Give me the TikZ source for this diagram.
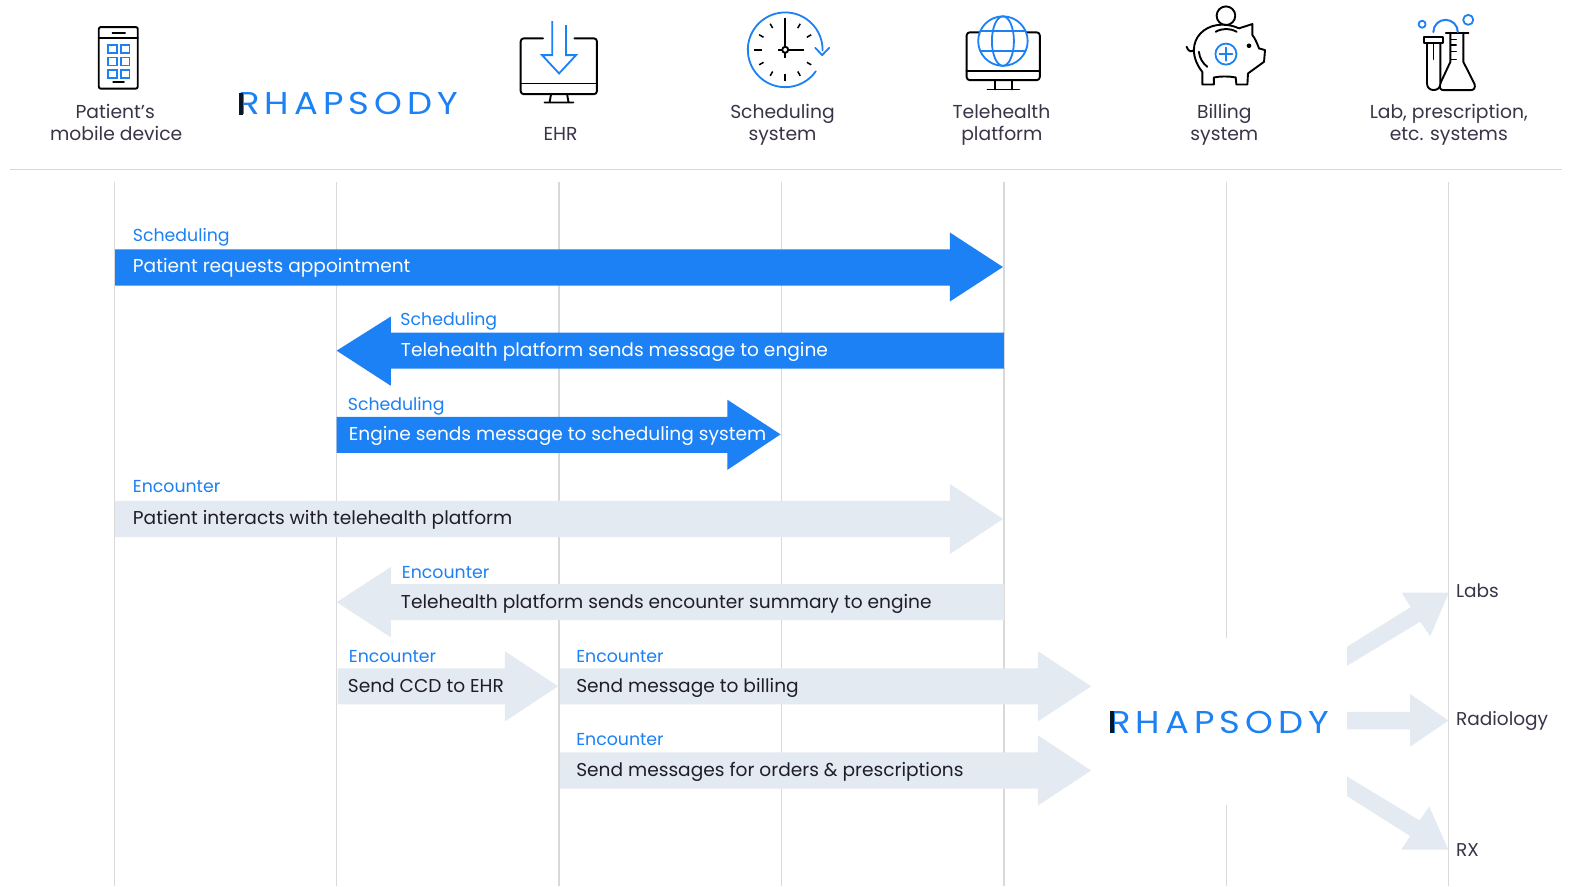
\documentclass[tikz,border=0pt]{standalone}
\usepackage{fontspec}
\setmainfont{Poppins}
\newfontfamily\logofont[LetterSpace=16,FakeStretch=1.12]{Poppins}
\definecolor{rblue}{HTML}{1B81F4}
\definecolor{rgrey}{HTML}{E4EAF2}
\definecolor{rline}{HTML}{D9D9D9}
\definecolor{rtext}{HTML}{3B3347}
\definecolor{rdark}{HTML}{1F1D2B}
\definecolor{rbar}{HTML}{0A1626}
\tikzset{
 lifeline/.style={draw=rline,line width=1.2pt},
 head/.style={anchor=base,inner sep=0pt,text=rtext,font=\fontsize{18.7}{23}\selectfont},
 side/.style={anchor=base west,inner sep=0pt,text=rtext,font=\fontsize{18.5}{23}\selectfont},
 tag/.style={anchor=base west,inner sep=0pt,text=rblue,font=\fontsize{17.3}{22}\selectfont},
 msgdark/.style={anchor=base west,inner sep=0pt,text=rdark,font=\fontsize{18.55}{24}\selectfont},
 msglight/.style={anchor=base west,inner sep=0pt,text=white,font=\fontsize{18.55}{24}\selectfont},
 logo/.style={anchor=base west,inner sep=0pt,text=rblue,font=\logofont\fontsize{31.5}{36}\selectfont},
 ink/.style={draw=black,line width=1.9pt,line join=round,line cap=round},
 inkb/.style={draw=rblue,line width=1.8pt,line join=round,line cap=round},
}
% rightward block arrow: x0, xhead, xtip, yshaft top, yshaft bottom, yhead top, yhead bottom, ytip, colour
\newcommand{\rarrow}[9]{\fill[#9] (#1,#4) -- (#2,#4) -- (#2,#6) -- (#3,#8) -- (#2,#7) -- (#2,#5) -- (#1,#5) -- cycle;}
\begin{document}
\begin{tikzpicture}[x=1pt,y=1pt,yscale=-1]
\useasboundingbox (0,0) rectangle (1568,885.3);
\fill[white] (0,0) rectangle (1568,885.3);
% header rule
\coordinate (ruleL) at (10,169); \coordinate (ruleR) at (1559,169);
\draw[draw=rline,line width=1.2pt] (ruleL) -- (ruleR);
% lifelines
\foreach \n/\x in {a/114,b/336,c/558,d/780,e/1002,g/1446}{
 \coordinate (\n top) at (\x,182); \coordinate (\n bot) at (\x,884);
 \draw[lifeline] (\n top) -- (\n bot);
}
\coordinate (ftop) at (1224,182); \coordinate (fmid) at (1224,637);
\coordinate (fmidb) at (1224,803); \coordinate (fbot) at (1224,884);
\draw[lifeline] (ftop) -- (fmid); \draw[lifeline] (fmidb) -- (fbot);
% block arrows
\rarrow{115}{948}{1001}{249}{285}{232}{301}{266.5}{rblue}
\rarrow{1002}{390}{336}{332}{368}{316}{385}{350}{rblue}
\rarrow{336}{726}{779}{416}{452}{399}{469}{433.5}{rblue}
\rarrow{115}{948}{1001}{500}{536}{483}{553}{518}{rgrey}
\rarrow{1002}{390}{336}{583}{619}{566}{636}{601}{rgrey}
\rarrow{337}{504}{557}{667}{703}{650}{720}{685}{rgrey}
\rarrow{559}{1036}{1089}{667}{703}{650}{720}{685}{rgrey}
\rarrow{559}{1036}{1089}{751}{787}{734}{804}{769}{rgrey}
\rarrow{1344.5}{1407.5}{1445.5}{710.5}{728}{692.7}{745.3}{719.2}{rgrey}
\fill[rgrey] (1344.5,645.5) -- (1408,606) -- (1399,591.5) -- (1446,591.5) -- (1427.5,635) -- (1417.5,620.5) -- (1344.5,664.5) -- cycle;
\fill[rgrey] (1344.5,775) -- (1417,819) -- (1426.5,805) -- (1445.5,848) -- (1398.5,848) -- (1407.5,834.5) -- (1344.5,794.5) -- cycle;
% arrow labels
\node[tag] (t1) at (132.5,241) {Scheduling};
\node[msglight] (m1) at (132.5,272) {Patient requests appointment};
\node[tag] (t2) at (399.5,325) {Scheduling};
\node[msglight] (m2) at (400,356) {Telehealth platform sends message to engine};
\node[tag] (t3) at (347,410) {Scheduling};
\node[msglight] (m3) at (348,440) {Engine sends message to scheduling system};
\node[tag] (t4) at (132.5,492) {Encounter};
\node[msgdark] (m4) at (132.5,523) {Patient interacts with telehealth platform};
\node[tag] (t5) at (401,577) {Encounter};
\node[msgdark] (m5) at (400,607) {Telehealth platform sends encounter summary to engine};
\node[tag] (t6) at (348,661) {Encounter};
\node[msgdark] (m6) at (347,691) {Send CCD to EHR};
\node[tag] (t7) at (575,661) {Encounter};
\node[msgdark] (m7) at (575,691) {Send message to billing};
\node[tag] (t8) at (575,744) {Encounter};
\node[msgdark] (m8) at (575,775) {Send messages for orders \& prescriptions};
\node[side] (labs) at (1453,596) {Labs};
\node[side] (rad) at (1453,724) {Radiology};
\node[side] (rx) at (1453,855) {RX};
% header labels
\node[head] (h1a) at (115,118) {Patient’s};
\node[head] (h1b) at (116,140) {mobile device};
\node[head] (h3) at (559.5,140) {EHR};
\node[head] (h4a) at (781,118) {Scheduling};
\node[head] (h4b) at (781,140) {system};
\node[head] (h5a) at (999.5,118) {Telehealth};
\node[head] (h5b) at (1000,140) {platform};
\node[head] (h6a) at (1222,118) {Billing};
\node[head] (h6b) at (1222,140) {system};
\node[head] (h7a) at (1446,118) {Lab, prescription,};
\node[head] (h7b) at (1446,140) {etc. systems};
% logos
\node[logo] (logo1) at (237.5,114.7) {RHAPSODY};
\fill[rbar] (238.6,92.7) rectangle (242.6,114.7);
\node[logo] (logo2) at (1107,731.7) {RHAPSODY};
\fill[rbar] (1108,709.7) rectangle (1112,731.7);
% phone
\draw[ink,rounded corners=2pt] (98.6,27) rectangle (137.5,88.5);
\draw[ink] (98.6,37.5) -- (137.5,37.5);
\draw[ink,line width=1.2pt] (112,33) -- (125,33);
\draw[ink] (113,81.7) -- (123.6,81.7);
\foreach \px in {108,120.7}\foreach \py in {45.3,57.3,69.6}
 \draw[inkb,line join=miter] (\px,\py) rectangle +(8.6,8);
% EHR monitor
\draw[ink,rounded corners=3pt] (542,38.3) -- (519.7,38.3) -- (519.7,94) -- (595.8,94) -- (595.8,38.3) -- (573.3,38.3);
\draw[ink] (519.7,83.3) -- (595.8,83.3);
\draw[ink] (550,94) -- (548.5,102.3) (566,94) -- (567.5,102.3) (543.6,102.3) -- (572.2,102.3);
\draw[inkb,line cap=butt,line join=miter] (551.1,21) -- (551.1,55) -- (541,55) -- (558,73.3) -- (575,55) -- (565,55) -- (565,25);
% clock
\begin{scope}[xshift=-1.3pt]
\draw[inkb] (785,49.7) ++(35:37.3) arc[start angle=35,end angle=361,radius=37.3];
\draw[inkb] (815,47.7) -- (821.9,55) -- (829,47.7);
\foreach \a in {30,60,120,150,210,240,300,330}
 \draw[ink,line width=1.5pt,line cap=butt] (785,49.7) ++(\a:25) -- ++(\a:5);
\draw[ink,line cap=butt] (785,49.7) ++(90:24) -- ++(90:7.5);
\draw[ink,line cap=butt] (785,49.7) ++(180:23.5) -- ++(180:8);
\draw[ink,line cap=butt] (785,18.3) -- (785,58.3) (778,49.7) -- (803.3,49.7);
\draw[ink,fill=white] (785,49.7) circle[radius=3pt];
\end{scope}
% telehealth monitor
\draw[ink,rounded corners=3pt] (964.8,32.3) rectangle (1037.8,80);
\draw[ink] (964.8,70.7) -- (1037.8,70.7);
\draw[ink] (992.7,80) -- (992.7,89.3) (1010.2,80) -- (1010.2,89.3) (985.6,89.3) -- (1017.3,89.3);
\draw[inkb,fill=white] (1001,41) circle[radius=24.7pt];
\draw[inkb] (1001,41) ellipse[x radius=11pt,y radius=24.7pt];
\draw[inkb] (978.4,31) -- (1023.6,31) (978.6,50.7) -- (1023.4,50.7);
% piggy bank
\begin{scope}[xshift=-1.7pt]
\draw[ink] (1225.3,15.7) circle[radius=9.3pt];
\draw[ink,fill=white] (1216.7,25) .. controls (1203,27) and (1193.3,37) .. (1193.3,50) .. controls (1193.3,58) and (1197,66) .. (1201.7,71.7) -- (1201.7,84.3) -- (1213.3,84.3) -- (1213.3,77.3) .. controls (1220,76) and (1228,76) .. (1235,77.3) -- (1235.7,84.3) -- (1246.7,84.3) -- (1247.3,73.3) -- (1263.3,61.7) -- (1264.3,50) -- (1258.3,48.3) .. controls (1256,42) and (1254,38) .. (1251.7,35) -- (1251.7,24) -- (1238.3,28.3) .. controls (1231,25) and (1223,24) .. (1216.7,25) -- cycle;
\draw[ink] (1186,46.7) .. controls (1188,52) and (1191,52) .. (1193.3,50);
\draw[ink] (1215,31.7) .. controls (1222,28) and (1229,28) .. (1236,31.7);
\draw[ink] (1198.3,51.7) .. controls (1199,58) and (1202,63) .. (1206.7,66.7);
\fill[black] (1248.3,45.7) circle[radius=2.3pt];
\draw[inkb] (1225.3,54) circle[radius=10.5pt];
\draw[inkb] (1218.8,54) -- (1231.8,54) (1225.3,47.5) -- (1225.3,60.5);
\end{scope}
% lab
\draw[ink,fill=white] (1447.6,32.7) -- (1447.6,61.7) -- (1437.2,84) .. controls (1436.3,88) and (1438,90) .. (1441,90) -- (1467.5,90) .. controls (1471,90) and (1472.7,88) .. (1471.8,84) -- (1460.5,61.7) -- (1460.5,32.7);
\draw[ink] (1443,32.7) -- (1465.7,32.7);
\draw[ink,line width=1.4pt] (1448.5,39.3) -- (1453.4,39.3) (1448.5,45) -- (1453.4,45) (1448.5,51.7) -- (1453.4,51.7) (1448.5,59.3) -- (1453.4,59.3);
\draw[ink,fill=white] (1424.3,43.3) -- (1424.3,83.5) .. controls (1424.3,92) and (1437.6,92) .. (1437.6,83.5) -- (1437.6,43.3);
\draw[ink] (1421.7,36.7) -- (1440,36.7) -- (1440,43.3) -- (1421.7,43.3) -- cycle;
\draw[ink,line width=1.2pt] (1431,43.3) -- (1431,59.3);
\draw[inkb,line width=2pt] (1430.6,32) arc[start angle=180,end angle=360,radius=12.2pt];
\draw[inkb] (1419.4,24.2) circle[radius=3.5pt];
\draw[inkb] (1465.4,19.8) circle[radius=5pt];
\end{tikzpicture}
\end{document}
